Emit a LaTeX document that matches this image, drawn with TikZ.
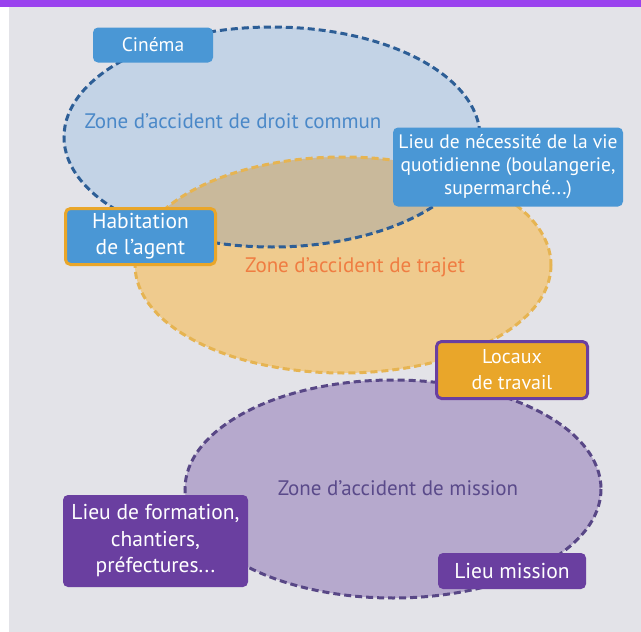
\documentclass[tikz,border=0pt]{standalone}
\usepackage{fontspec}
\setmainfont{PT Sans}
\definecolor{fondgris}{HTML}{E3E3E8}
\definecolor{barreviolet}{HTML}{9A42EE}
\definecolor{bleuzone}{HTML}{C3D3E6}
\definecolor{bleutrait}{HTML}{2D5E96}
\definecolor{bleutexte}{HTML}{4A88C8}
\definecolor{bleuboite}{HTML}{4A97D5}
\definecolor{orangezone}{HTML}{EFCB8E}
\definecolor{orangetrait}{HTML}{E6B452}
\definecolor{orangetexte}{HTML}{EF7D42}
\definecolor{orangeboite}{HTML}{E9A62A}
\definecolor{mixzone}{HTML}{C9B99B}
\definecolor{violetzone}{HTML}{B6A9CD}
\definecolor{violettrait}{HTML}{584786}
\definecolor{violettexte}{HTML}{5A4A8A}
\definecolor{violetboite}{HTML}{6A3FA0}
\begin{document}
\begin{tikzpicture}[x=1pt,y=-1pt,
    zonetrait/.style={dashed, dash pattern=on 7pt off 4pt, line width=3pt},
    boite/.style={rounded corners=5pt, text=white, align=center, inner sep=0pt,
      font=\fontsize{21}{26}\selectfont},
    zonetexte/.style={font=\fontsize{21}{24}\selectfont}]
    % fond et barre du haut
    \useasboundingbox (0,0) rectangle (641,632);
    \fill[white] (0,0) rectangle (641,632);
    \fill[fondgris] (9,7) rectangle (641,632);
    \fill[barreviolet] (0,0) rectangle (641,7);
    % les trois zones
    \fill[bleuzone] (272,137) ellipse [x radius=208, y radius=110];
    \fill[orangezone] (343,265) ellipse [x radius=208, y radius=108];
    \begin{scope}
        \clip (272,137) ellipse [x radius=208, y radius=110];
        \fill[mixzone] (343,265) ellipse [x radius=208, y radius=108];
    \end{scope}
    \fill[violetzone] (393,489) ellipse [x radius=208, y radius=109];
    \draw[zonetrait, bleutrait] (272,137) ellipse [x radius=208, y radius=110];
    \draw[zonetrait, orangetrait] (343,265) ellipse [x radius=208, y radius=108];
    \draw[zonetrait, violettrait] (393,489) ellipse [x radius=208, y radius=109];
    \node[zonetexte, text=bleutexte] (zcommun) at (233,121) {Zone d’accident de droit commun};
    \node[zonetexte, text=orangetexte] (ztrajet) at (355,267) {Zone d’accident de trajet};
    \node[zonetexte, text=violettexte] (zmission) at (398,488) {Zone d’accident de mission};
    % les lieux
    \node[boite, fill=bleuboite, minimum width=120pt, minimum height=35pt,
      font=\fontsize{19.5}{23}\selectfont] (cinema) at (153,45) {Cinéma};
    \node[boite, fill=bleuboite, minimum width=230pt, minimum height=79pt,
      font=\fontsize{19.5}{23}\selectfont] (quotidien) at (508,167)
      {Lieu de nécessité de la vie\\quotidienne (boulangerie,\\supermarché...)};
    \node[boite, fill=bleuboite, draw=orangeboite, line width=3pt, minimum width=150pt,
      minimum height=56pt, font=\fontsize{21.5}{26}\selectfont] (habitation) at (140.5,236.5)
      {Habitation\\de l’agent};
    \node[boite, fill=orangeboite, draw=violetboite, line width=3pt, minimum width=151pt,
      minimum height=57pt, font=\fontsize{20}{26}\selectfont] (locaux) at (512,370)
      {Locaux\\de travail};
    \node[boite, fill=violetboite, minimum width=185pt, minimum height=92pt,
      font=\fontsize{21.5}{26.5}\selectfont] (formation) at (155.5,541)
      {Lieu de formation,\\chantiers,\\préfectures...};
    \node[boite, fill=violetboite, minimum width=148pt, minimum height=36pt,
      font=\fontsize{21.5}{24}\selectfont] (mission) at (512,571) {Lieu mission};
\end{tikzpicture}
\end{document}
